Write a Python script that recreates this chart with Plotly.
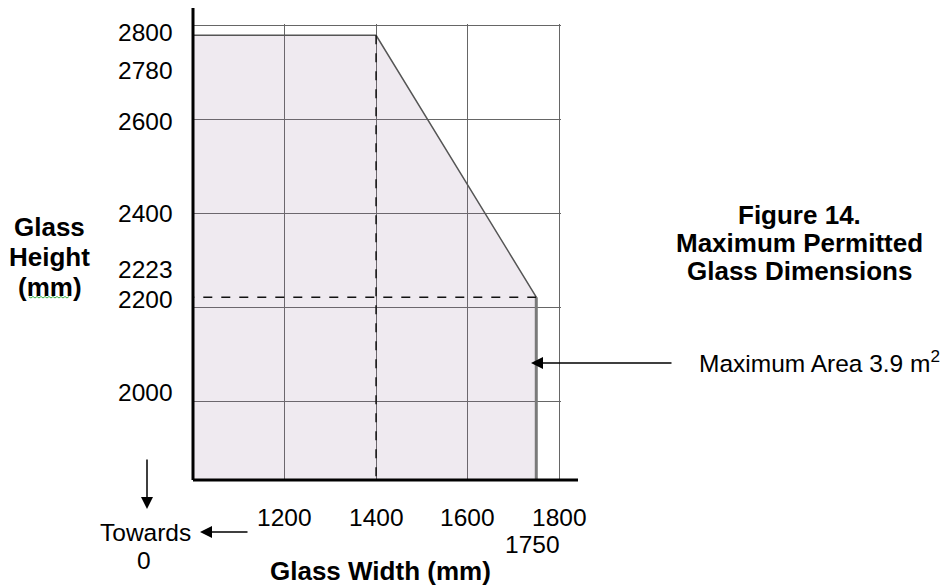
import plotly.graph_objects as go

# ---- data ----
boundary_width = [0, 1400, 1750]          # mm (extends towards 0)
boundary_height = [2780, 2780, 2223]      # mm
edge_width = [1750, 1750]
edge_height = [2223, 0]
knee_width = 1400
knee_height = 2780
end_height = 2223

x_grid = [1000, 1200, 1400, 1600, 1800]
y_grid = [2000, 2200, 2400, 2600, 2800]
x_tick_labels = ["1200", "1400", "1600", "1800"]
x_tick_vals = [1200, 1400, 1600, 1800]
y_tick_labels = ["2800", "2780", "2600", "2400", "2223", "2200", "2000"]
y_label_pos = [2785, 2706, 2596, 2400, 2281, 2217, 2021]

FONT = "Liberation Sans, Arial, sans-serif"
REG = 24.5
BOLD = 26
W, H = 948, 587
OFF = 8                           # default page margin of the html body
L, R, T, B = 193, 561, 24, 480    # plot area in window pixels


def px(xp):
    return (xp - L) / (R - L)


def py(yp):
    return (B - yp) / (B - T)


fig = go.Figure()

fig.add_trace(go.Scatter(
    x=boundary_width, y=boundary_height, mode="lines", fill="tozeroy",
    fillcolor="rgba(150,115,155,0.15)", line=dict(color="#555555", width=1.5),
    hoverinfo="skip", showlegend=False))
fig.add_trace(go.Scatter(
    x=edge_width, y=edge_height, mode="lines",
    line=dict(color="#7a7a7a", width=3), hoverinfo="skip", showlegend=False))
fig.add_trace(go.Scatter(
    x=[knee_width, knee_width], y=[knee_height, 0], mode="lines",
    line=dict(color="#111111", width=1.5, dash="dash"), hoverinfo="skip", showlegend=False))
fig.add_trace(go.Scatter(
    x=[0, edge_width[0]], y=[end_height, end_height], mode="lines",
    line=dict(color="#111111", width=1.5, dash="dash"), hoverinfo="skip", showlegend=False))

annotations = []
for lab, yv in zip(y_tick_labels, y_label_pos):
    annotations.append(dict(x=0, xref="paper", y=yv, yref="y", text=lab, showarrow=False,
                            xanchor="right", yanchor="middle", xshift=-18,
                            font=dict(family=FONT, size=REG, color="black")))
for lab, xv in zip(x_tick_labels, x_tick_vals):
    annotations.append(dict(x=xv, xref="x", y=0, yref="paper", text=lab, showarrow=False,
                            xanchor="center", yanchor="middle", yshift=-37,
                            font=dict(family=FONT, size=REG, color="black")))
annotations.append(dict(x=edge_width[0], xref="x", y=0, yref="paper", text="1750", showarrow=False,
                        xanchor="center", yanchor="middle", yshift=-64, xshift=-4,
                        font=dict(family=FONT, size=REG, color="black")))


def text_at(x, y, txt, size, anchor="center"):
    return dict(x=px(x), y=py(y), xref="paper", yref="paper", text=txt,
                showarrow=False, xanchor=anchor, yanchor="middle",
                font=dict(family=FONT, size=size, color="black"))


annotations += [
    text_at(380, 571, "<b>Glass Width (mm)</b>", BOLD),
    text_at(49, 227, "<b>Glass</b>", BOLD),
    text_at(49, 257, "<b>Height</b>", BOLD),
    text_at(50, 287, "<b>(mm)</b>", BOLD),
    text_at(799, 215, "<b>Figure 14.</b>", BOLD),
    text_at(799, 243, "<b>Maximum Permitted</b>", BOLD),
    text_at(799, 271, "<b>Glass Dimensions</b>", BOLD),
    text_at(697, 361, "Maximum Area 3.9 m<sup>2</sup>", REG, "left"),
    text_at(145, 532, "Towards", REG),
    text_at(144, 560, "0", REG),
    # arrows
    dict(x=px(531), y=py(363), xref="paper", yref="paper", text="", showarrow=True,
         ax=142, ay=0, arrowhead=2, arrowsize=1.6, arrowwidth=1.5, arrowcolor="black"),
    dict(x=px(147), y=py(509), xref="paper", yref="paper", text="", showarrow=True,
         ax=0, ay=-51, arrowhead=2, arrowsize=1.6, arrowwidth=1.5, arrowcolor="black"),
    dict(x=px(200), y=py(532), xref="paper", yref="paper", text="", showarrow=True,
         ax=49, ay=0, arrowhead=2, arrowsize=1.6, arrowwidth=1.5, arrowcolor="black"),
]

shapes = [
    dict(type="line", xref="paper", yref="paper", x0=0, x1=0, y0=0, y1=py(8),
         line=dict(color="black", width=3), layer="above"),
    dict(type="line", xref="paper", yref="paper", x0=0, x1=px(578), y0=0, y1=0,
         line=dict(color="black", width=3), layer="above"),
    # spell-check squiggle under "mm"
    dict(type="path", xref="paper", yref="paper",
         path="M {:.4f},{:.4f} ".format(px(29), py(297)) + " ".join(
             "L {:.4f},{:.4f}".format(px(29 + 2 * i), py(297 + (1 if i % 2 else -0.5)))
             for i in range(1, 21)),
         line=dict(color="#3cb043", width=1)),
]

fig.update_layout(
    width=W - OFF, height=H - OFF,
    margin=dict(l=L - OFF, r=W - R, t=T - OFF, b=H - B, pad=0),
    paper_bgcolor="white", plot_bgcolor="white",
    showlegend=False,
    xaxis=dict(range=[1000, 1804], tickvals=x_grid, showticklabels=False, ticks="",
               showgrid=True, gridcolor="#666666", gridwidth=1, zeroline=False,
               showline=False, fixedrange=True),
    yaxis=dict(range=[1834, 2804], tickvals=y_grid, showticklabels=False, ticks="",
               showgrid=True, gridcolor="#666666", gridwidth=1, zeroline=False,
               showline=False, fixedrange=True),
    annotations=annotations,
    shapes=shapes,
)

fig.write_html("out.html")
